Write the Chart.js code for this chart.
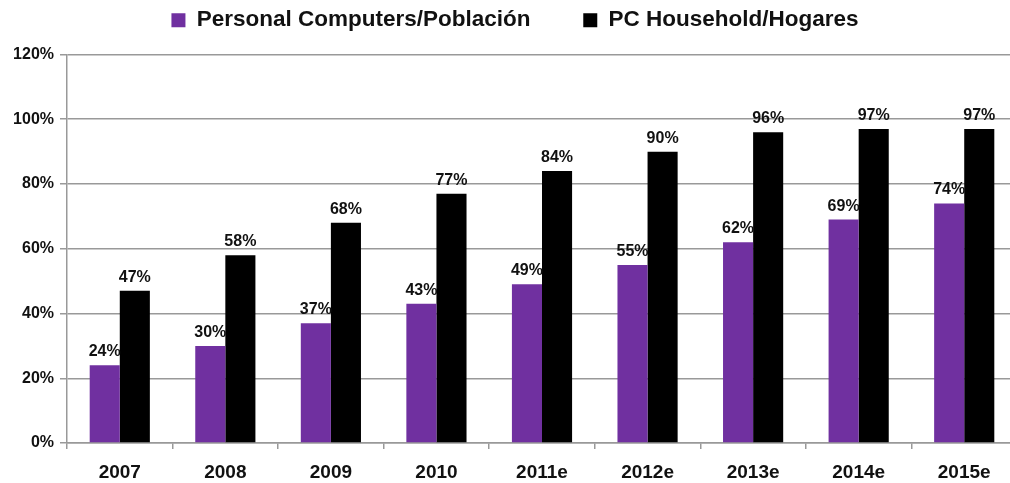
<!DOCTYPE html>
<html><head><meta charset="utf-8">
<script src="https://cdn.jsdelivr.net/npm/chart.js@4.4.1/dist/chart.umd.min.js"></script>
<style>html,body{margin:0;padding:0;background:#fff;overflow:hidden;width:1010px;height:483px}canvas{display:block}</style>
</head><body><canvas id="c" width="1022" height="483"></canvas>
<script>
const categories = ['2007','2008','2009','2010','2011e','2012e','2013e','2014e','2015e'];
const pcPopulation = [24,30,37,43,49,55,62,69,74];
const pcHousehold = [47,58,68,77,84,90,96,97,97];
const seriesNames = ['Personal Computers/Población','PC Household/Hogares'];
const yMin = 0, yMax = 120, yStep = 20;

const FONT = '"Liberation Sans", Arial, sans-serif';
const PAD_LEFT = 13;

const valueLabels = {
  id: 'valueLabels',
  afterDatasetsDraw(chart) {
    const ctx = chart.ctx;
    ctx.save();
    ctx.font = 'bold 16px ' + FONT;
    ctx.fillStyle = '#111';
    ctx.textAlign = 'center';
    ctx.textBaseline = 'alphabetic';
    chart.data.datasets.forEach((ds, i) => {
      chart.getDatasetMeta(i).data.forEach((bar, j) => {
        ctx.fillText(ds.data[j] + '%', bar.x, bar.y - 9);
      });
    });
    ctx.restore();
  }
};

const legendFit = {
  id: 'legendFit',
  beforeLayout(chart) {
    const lg = chart.legend;
    if (lg && !lg._wrapped) {
      const f = lg.fit;
      lg.fit = function () { f.call(this); this.height += 13; };
      lg._wrapped = true;
    }
  }
};

new Chart(document.getElementById('c'), {
  type: 'bar',
  data: {
    labels: categories,
    datasets: [
      { label: seriesNames[0], data: pcPopulation, backgroundColor: '#7030A0', borderWidth: 0 },
      { label: seriesNames[1], data: pcHousehold, backgroundColor: '#000000', borderWidth: 0 }
    ]
  },
  options: {
    responsive: false,
    animation: false,
    layout: { padding: { left: PAD_LEFT, right: 5, top: 0, bottom: 0 } },
    datasets: { bar: { categoryPercentage: 0.57, barPercentage: 1.0 } },
    plugins: {
      tooltip: { enabled: false },
      legend: {
        position: 'top',
        labels: {
          font: { family: FONT, size: 22.5, weight: 'bold' },
          color: '#111',
          boxWidth: 14,
          boxHeight: 14,
          padding: 9,
          generateLabels(chart) {
            const items = Chart.defaults.plugins.legend.labels.generateLabels(chart);
            items[0].text = items[0].text + '       ';
            return items;
          }
        }
      }
    },
    scales: {
      x: {
        grid: { display: true, drawOnChartArea: false, offset: true, tickLength: 6, color: '#999', lineWidth: 1.5 },
        border: { display: true, color: '#999', width: 1.5 },
        ticks: { font: { family: FONT, size: 19, weight: 'bold' }, color: '#111', padding: 12, maxRotation: 0 },
        afterFit(s) { s.height = 40; }
      },
      y: {
        min: yMin, max: yMax,
        grid: { color: '#999', lineWidth: 1.5, tickLength: 7 },
        border: { display: true, color: '#999', width: 1.5 },
        ticks: { stepSize: yStep, font: { family: FONT, size: 16, weight: 'bold' }, color: '#111', padding: 6,
          callback: v => v + '%' },
        afterFit(s) { s.width = 67 - PAD_LEFT; }
      }
    }
  },
  plugins: [legendFit, valueLabels]
});
</script>
</body></html>
